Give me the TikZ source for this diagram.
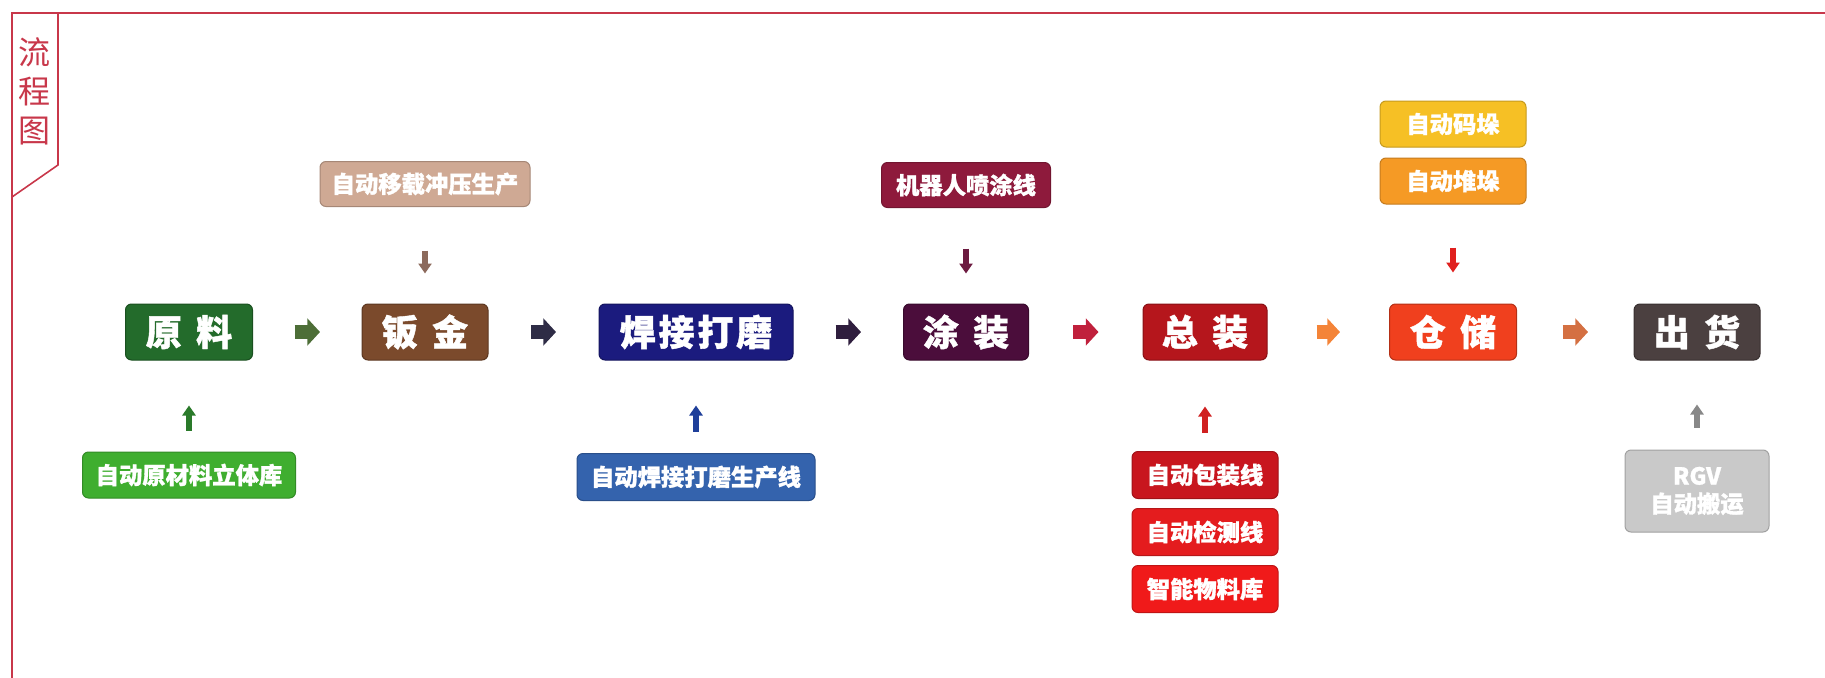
\documentclass[tikz,border=0pt]{standalone}
\usepackage{fontspec}
\setmainfont{Noto Sans CJK SC}[BoldFeatures={FakeBold=1.2}]
\usetikzlibrary{arrows.meta}
\definecolor{frame}{HTML}{C8374A}
\definecolor{cyl}{HTML}{236B2B}
\definecolor{cbj}{HTML}{7B4A2C}
\definecolor{chj}{HTML}{1B1B7E}
\definecolor{ctz}{HTML}{4B0D3B}
\definecolor{czz}{HTML}{B5161C}
\definecolor{ccc}{HTML}{F0401E}
\definecolor{cch}{HTML}{4B4040}
\definecolor{cs1}{HTML}{CFA994}
\definecolor{cs2}{HTML}{8E1A3C}
\definecolor{cs3}{HTML}{F6C025}
\definecolor{cs4}{HTML}{F59A25}
\definecolor{cb1}{HTML}{3FAE2F}
\definecolor{cb2}{HTML}{3463AD}
\definecolor{cb3}{HTML}{C8161E}
\definecolor{cb4}{HTML}{E41C1E}
\definecolor{cb5}{HTML}{F01A1A}
\definecolor{cb6}{HTML}{C9C9C9}
\definecolor{a1}{HTML}{4D6E37}
\definecolor{a2}{HTML}{2E2C46}
\definecolor{a3}{HTML}{2F1E3E}
\definecolor{a4}{HTML}{C0203C}
\definecolor{a5}{HTML}{F48438}
\definecolor{a6}{HTML}{D47042}
\definecolor{v1}{HTML}{8C6A5C}
\definecolor{v2}{HTML}{6C1A40}
\definecolor{v3}{HTML}{E0201E}
\definecolor{v4}{HTML}{2A7A2A}
\definecolor{v5}{HTML}{1F3F9A}
\definecolor{v6}{HTML}{D02020}
\definecolor{v7}{HTML}{888888}
\tikzset{
  mainbox/.style 2 args={rounded corners=4.5pt, fill=#1, draw=#1!75!black, line width=0.75pt,
    minimum width=#2*0.75pt, minimum height=42pt, inner sep=0pt, text=white,
    font=\fontsize{27}{30}\selectfont\bfseries},
  sidebox/.style n args={3}{rounded corners=4.5pt, fill=#1, draw=#1!80!black, line width=0.75pt,
    minimum width=#2*0.75pt, minimum height=#3*0.75pt, inner sep=0pt, text=white, align=center,
    font=\fontsize{17.5}{21}\selectfont\bfseries},
  hflow/.style 2 args={draw=#1, line width=11pt,
    -{Triangle[length=9.5pt,width=20pt]}, shorten <=#2*0.75pt, shorten >=#2*0.75pt},
  vflow/.style n args={3}{draw=#1, line width=4.5pt,
    -{Triangle[length=7.5pt,width=9.75pt]}, shorten <=#2*0.75pt, shorten >=#3*0.75pt},
  framestyle/.style={draw=frame, line width=1.2pt}
}
\begin{document}
\begin{tikzpicture}[x=0.75pt,y=-0.75pt]
\useasboundingbox (0,0) rectangle (1825,678);
% frame
\draw[framestyle] (1825,13) -- (12,13) -- (12,678);
\draw[framestyle] (58,13) -- (58,165) -- (12,197);
\node[text=frame, font=\fontsize{24}{29.25}\selectfont, align=center, inner sep=0pt] (title) at (34,91) {流\\程\\图};
% main nodes
\node[mainbox={cyl}{127}] (yl) at (189,332) {原\hspace{0.4em}料};
\node[mainbox={cbj}{126}] (bj) at (425,332) {钣\hspace{0.4em}金};
\node[mainbox={chj}{194}] (hj) at (696,332) {焊\hspace{0.08em}接\hspace{0.08em}打\hspace{0.08em}磨};
\node[mainbox={ctz}{125}] (tz) at (966,332) {涂\hspace{0.4em}装};
\node[mainbox={czz}{124}] (zz) at (1205,332) {总\hspace{0.4em}装};
\node[mainbox={ccc}{127}] (cc) at (1453,332) {仓\hspace{0.4em}储};
\node[mainbox={cch}{126}] (ch) at (1697,332) {出\hspace{0.4em}货};
% side nodes
\node[sidebox={cs1}{210}{45}] (s1) at (425,184) {自动移载冲压生产};
\node[sidebox={cs2}{169}{45}] (s2) at (966,185) {机器人喷涂线};
\node[sidebox={cs3}{146}{46}] (s3) at (1453,124) {自动码垛};
\node[sidebox={cs4}{146}{46}] (s4) at (1453,181) {自动堆垛};
\node[sidebox={cb1}{213}{46}] (b1) at (189,475) {自动原材料立体库};
\node[sidebox={cb2}{238}{47}] (b2) at (696,477) {自动焊接打磨生产线};
\node[sidebox={cb3}{146}{47}] (b3) at (1205,475) {自动包装线};
\node[sidebox={cb4}{146}{47}] (b4) at (1205,532) {自动检测线};
\node[sidebox={cb5}{146}{47}] (b5) at (1205,589) {智能物料库};
\node[sidebox={cb6}{144}{82}] (b6) at (1697,491) {RGV\\自动搬运};
% flow arrows
\draw[hflow={a1}{41.5}] (yl) -- (bj);
\draw[hflow={a2}{42.5}] (bj) -- (hj);
\draw[hflow={a3}{42}] (hj) -- (tz);
\draw[hflow={a4}{44}] (tz) -- (zz);
\draw[hflow={a5}{49}] (zz) -- (cc);
\draw[hflow={a6}{45.5}] (cc) -- (ch);
% vertical arrows
\draw[vflow={v1}{43.5}{30}] (s1) -- (bj);
\draw[vflow={v2}{40.5}{30}] (s2) -- (tz);
\draw[vflow={v3}{43}{31}] (s4) -- (cc);
\draw[vflow={v4}{21}{45}] (b1) -- (yl);
\draw[vflow={v5}{21.5}{45}] (b2) -- (hj);
\draw[vflow={v6}{18.5}{46}] (b3) -- (zz);
\draw[vflow={v7}{22}{44}] (b6) -- (ch);
\end{tikzpicture}
\end{document}
